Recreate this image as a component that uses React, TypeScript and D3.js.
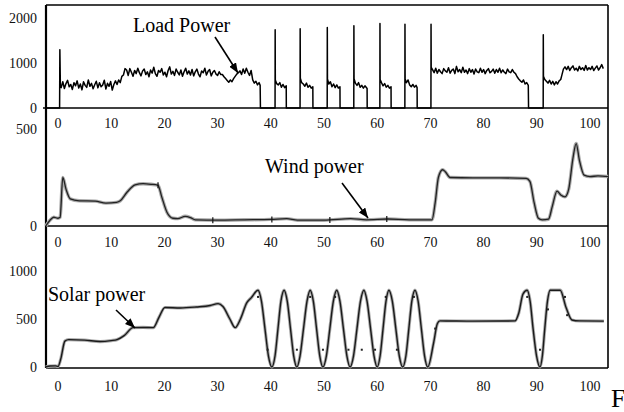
import { scaleLinear, line, curveMonotoneX, curveLinear } from "d3"

type Pt = [number, number]

// time axis labels (shared by all three panels)
const timeTicks = [0, 10, 20, 30, 40, 50, 60, 70, 80, 90, 100]
const loadTicks = [0, 1000, 2000]
const windTicks = [0, 500]
const solarTicks = [0, 500, 1000]

// fixed-rate samples of the noisy load plateaus
const run = (t0: number, step: number, values: number[]): Pt[] =>
  values.map((v, i) => [t0 + i * step, v] as Pt)

const loadStart: Pt[] = [[-2.3, 0], [0.3, 0], [0.35, 1290], [0.45, 480]]
const loadA = [450, 580, 430, 540, 610, 470, 520, 410, 560, 490, 600, 440, 530, 400, 580, 500, 455, 620, 480, 545, 425, 515, 590, 445, 560, 470, 510, 615, 420, 545, 480, 585, 395, 520, 600]
const loadRise: Pt[] = [[11.1, 520], [11.4, 620], [11.7, 560], [12.0, 700], [12.3, 730], [12.6, 870]]
const loadB = [840, 720, 870, 790, 700, 830, 760, 880, 780, 710, 820, 860, 740, 800, 690, 840, 770, 900, 760, 700, 830, 790, 870, 730, 790, 690, 830, 910, 750, 810, 720, 860, 790, 730, 840, 700, 800, 880, 750, 820, 730, 850, 710, 800, 860, 750, 690, 820, 780, 880, 730, 810, 850, 710, 790, 830, 750, 720, 800, 740]
const loadDip: Pt[] = [[30.9, 740], [31.2, 690], [31.5, 650], [31.8, 610], [32.1, 570], [32.4, 620], [32.7, 580], [33.0, 650], [33.3, 700], [33.6, 750], [33.9, 780]]
const loadC = [820, 740, 860, 770, 880, 790, 720, 830]
const loadDrop: Pt[] = [[36.6, 620], [36.9, 550], [37.2, 590], [37.5, 510], [37.8, 560], [38.0, 500], [38.05, 0]]
const loadPulses: Pt[] = [
  [40.8, 0], [40.82, 1730], [40.85, 620], [41.1, 540], [41.4, 510], [41.7, 560], [42.0, 460], [42.3, 520], [42.6, 450], [42.9, 490], [42.92, 0],
  [45.5, 0], [45.52, 1750], [45.55, 660], [45.8, 560], [46.1, 530], [46.4, 480], [46.7, 550], [47.0, 460], [47.3, 500], [47.6, 440], [47.9, 470], [47.92, 0],
  [50.6, 0], [50.62, 1780], [50.65, 640], [50.9, 530], [51.2, 580], [51.5, 470], [51.8, 530], [52.1, 450], [52.4, 510], [52.7, 440], [53.0, 470], [53.02, 0],
  [55.6, 0], [55.62, 1820], [55.65, 650], [55.9, 550], [56.2, 500], [56.5, 560], [56.8, 460], [57.1, 500], [57.4, 440], [57.7, 490], [58.1, 430], [58.12, 0],
  [60.5, 0], [60.52, 1870], [60.55, 630], [60.8, 560], [61.1, 490], [61.4, 540], [61.7, 460], [62.0, 500], [62.3, 440], [62.6, 470], [62.62, 0],
  [65.2, 0], [65.22, 1850], [65.25, 640], [65.5, 560], [65.8, 620], [66.1, 510], [66.4, 470], [66.7, 520], [67.0, 460], [67.3, 500], [67.5, 450], [67.52, 0],
  [70.1, 0], [70.12, 1850], [70.15, 900],
]
const loadD = [850, 780, 880, 770, 850, 800, 760, 870, 820, 790, 890, 770, 830, 860, 760, 920, 800, 850, 780, 900, 790, 840, 760, 870, 790, 850, 750, 860, 800, 780, 880, 790, 850, 760, 830, 870, 780, 810, 860, 770, 850, 790, 880, 780, 840, 790, 760, 860, 800, 780, 850, 790]
const loadTail: Pt[] = [
  [86.0, 760], [86.3, 690], [86.6, 640], [86.9, 600], [87.2, 570], [87.5, 620], [87.8, 530], [88.1, 560], [88.4, 500], [88.45, 0],
  [91.2, 0], [91.22, 1620], [91.25, 700], [91.5, 630], [91.8, 590], [92.1, 550], [92.4, 610], [92.7, 530], [93.0, 590], [93.3, 510], [93.6, 580], [93.9, 530], [94.2, 600], [94.5, 630], [94.7, 720], [95.0, 860], [95.3, 910],
]
const loadE = [850, 920, 830, 890, 930, 840, 880, 820, 920, 850, 890, 830, 940, 840, 890, 850, 920, 830, 880, 930, 840, 890, 960, 870]

const loadPower: Pt[] = [
  ...loadStart, ...run(0.6, 0.3, loadA), ...loadRise, ...run(12.9, 0.3, loadB),
  ...loadDip, ...run(34.2, 0.3, loadC), ...loadDrop, ...loadPulses,
  ...run(70.4, 0.3, loadD), ...loadTail, ...run(95.6, 0.3, loadE),
]

const windPower: Pt[] = [
  [-2.3, 0], [-1.5, 30], [-0.8, 45], [0, 40], [0.4, 45], [0.9, 250], [1.5, 190], [2.3, 140], [4, 130], [7, 128], [9, 118], [11, 122],
  [11.7, 130], [13, 175], [14.5, 212], [16, 218], [17.5, 215], [18.8, 210], [19.5, 150], [20.5, 70], [21.6, 40], [22.5, 38], [23.9, 50],
  [25, 42], [25.8, 32], [30, 30], [35, 32], [40, 34], [43, 38], [45, 30], [50, 30], [55, 38], [58, 32], [62, 36], [66, 32], [70.3, 32],
  [70.9, 120], [71.5, 250], [72.3, 290], [72.8, 280], [73.7, 250], [78, 248], [83, 248], [88, 245], [88.7, 230], [89.5, 120], [90.3, 40],
  [91, 32], [92.2, 35], [92.9, 100], [93.8, 180], [94.5, 160], [95.3, 150], [96, 190], [96.8, 350], [97.4, 425], [98, 340], [98.9, 262],
  [100, 255], [101.5, 258], [103.4, 255],
]
const windMarks: Pt[] = [[18.8, 210], [29.1, 30], [40.2, 34], [51.1, 31], [61.8, 36]]

const solarPower: Pt[] = [
  [-2.3, 0], [-1.5, 10], [-0.5, 12], [0, 5], [0.5, 80], [1.3, 270], [2, 285], [5, 280], [7.9, 265], [10, 275], [11.1, 285], [12.5, 330],
  [14.1, 410], [16, 412], [17.9, 410], [19, 520], [20.1, 620], [23, 615], [26, 625], [28.6, 640], [30.1, 660], [31, 630], [32.3, 500],
  [33.3, 410], [34.3, 500], [35.5, 670], [36.3, 720],
  [37.6, 800], [38.25, 683], [38.9, 400], [39.55, 117], [40.2, 0], [40.8, 117], [41.35, 400], [41.9, 683],
  [42.5, 800], [43.1, 683], [43.7, 400], [44.3, 117], [44.9, 0], [45.5, 117], [46.15, 400], [46.8, 683],
  [47.4, 800], [48.0, 683], [48.6, 400], [49.2, 117], [49.8, 0], [50.45, 117], [51.1, 400], [51.75, 683],
  [52.4, 800], [53.0, 683], [53.65, 400], [54.3, 117], [54.9, 0], [55.55, 117], [56.2, 400], [56.85, 683],
  [57.5, 800], [58.1, 683], [58.75, 400], [59.4, 117], [60, 0], [60.55, 117], [61.1, 400], [61.65, 683],
  [62.2, 800], [62.85, 683], [63.5, 400], [64.15, 117], [64.8, 0], [65.4, 117], [65.95, 400], [66.5, 683],
  [67.1, 800], [67.7, 683], [68.3, 400], [68.9, 117], [69.5, 0],
  [70.6, 250], [71.3, 450], [71.8, 480], [78, 478], [85.9, 480], [86.6, 560], [87.4, 760],
  [88.2, 800], [88.75, 683], [89.3, 400], [89.95, 117], [90.6, 0], [91.05, 117], [91.5, 400], [92.0, 683],
  [92.5, 800], [94.4, 800], [95.5, 620], [96.6, 490], [98, 480], [102.6, 478],
]
const solarMarks: Pt[] = [
  [37.6, 730], [39.4, 180], [44.9, 180], [47.4, 730], [49.8, 180], [52.1, 730], [54.6, 180], [57.1, 180], [59.6, 180],
  [61.6, 730], [63.7, 180], [66.9, 730], [70.9, 400], [88.2, 730], [90.6, 180], [92.1, 600], [95.3, 730], [95.7, 540],
]

const serif = "'Liberation Serif', 'Times New Roman', serif"

export default function App() {
  const left = 46
  const right = 608
  const top = 5
  const bottom = 368

  const x = scaleLinear().domain([0, 100]).range([58, 590])
  const yLoad = scaleLinear().domain([0, 2000]).range([108, 17.5])
  const yWind = scaleLinear().domain([0, 500]).range([226, 129])
  const ySolar = scaleLinear().domain([0, 1000]).range([367, 271])

  const loadLine = line<Pt>().x((d) => x(d[0])).y((d) => yLoad(d[1])).curve(curveLinear)
  const windLine = line<Pt>().x((d) => x(d[0])).y((d) => yWind(d[1])).curve(curveMonotoneX)
  const solarLine = line<Pt>().x((d) => x(d[0])).y((d) => ySolar(d[1])).curve(curveMonotoneX)

  const panels = [
    { y: yLoad, ticks: loadTicks, xLabelY: 128 },
    { y: yWind, ticks: windTicks, xLabelY: 247 },
    { y: ySolar, ticks: solarTicks, xLabelY: 391 },
  ]

  return (
    <svg
      width={624}
      height={412}
      style={{ position: "absolute", left: 0, top: 0, background: "#fff" }}
      fontFamily={serif}
    >
      <defs>
        <marker id="head" viewBox="0 0 10 8" refX={10} refY={4} markerWidth={10} markerHeight={8}
          markerUnits="userSpaceOnUse" orient="auto">
          <path d="M0,0 L10,4 L0,8 Z" fill="#000" />
        </marker>
      </defs>

      {/* frame and zero lines */}
      <g stroke="#000" fill="none">
        <line x1={left} x2={right} y1={top} y2={top} strokeWidth={1.6} />
        <line x1={right} x2={right} y1={top} y2={bottom} strokeWidth={1.6} />
        <line x1={left} x2={left} y1={top} y2={bottom} strokeWidth={2.2} />
        <line x1={left - 3} x2={right} y1={yLoad(0)} y2={yLoad(0)} strokeWidth={1.6} />
        <line x1={left} x2={right} y1={yWind(0)} y2={yWind(0)} strokeWidth={1.6} />
        <line x1={left} x2={right} y1={bottom} y2={bottom} strokeWidth={1.6} />
      </g>

      {/* tick labels */}
      {panels.map((p, i) => (
        <g key={i} fontSize={14} fill="#111">
          {p.ticks.map((t) => (
            <text key={t} x={37} y={p.y(t) + 5} textAnchor="end">{t}</text>
          ))}
          {timeTicks.map((t) => (
            <text key={"x" + t} x={x(t)} y={p.xLabelY} textAnchor="middle">{t}</text>
          ))}
        </g>
      ))}

      {/* series */}
      <path d={loadLine(loadPower) || undefined} fill="none" stroke="#000" strokeWidth={1.5} strokeLinejoin="round" />

      <path d={windLine(windPower) || undefined} fill="none" stroke="#aaa" strokeWidth={3.4} />
      <path d={windLine(windPower) || undefined} fill="none" stroke="#222" strokeWidth={1.3} />
      {windMarks.map((d, i) => (
        <line key={i} x1={x(d[0])} x2={x(d[0])} y1={yWind(d[1]) - 3} y2={yWind(d[1]) + 3} stroke="#111" strokeWidth={1.2} />
      ))}

      <path d={solarLine(solarPower) || undefined} fill="none" stroke="#aaa" strokeWidth={3.2} />
      <path d={solarLine(solarPower) || undefined} fill="none" stroke="#1a1a1a" strokeWidth={1.4} />
      {solarMarks.map((d, i) => (
        <rect key={i} x={x(d[0]) - 1} y={ySolar(d[1]) - 1} width={2} height={2} fill="#222" />
      ))}

      {/* annotations */}
      <g fontSize={20} fill="#000">
        <text x={133} y={32}>Load Power</text>
        <text x={265} y={173}>Wind power</text>
        <text x={48} y={301}>Solar power</text>
      </g>
      <g stroke="#000" strokeWidth={1.6} markerEnd="url(#head)">
        <line x1={215} y1={37} x2={238} y2={73} />
        <line x1={342} y1={183} x2={368} y2={218} />
        <line x1={116} y1={310} x2={135} y2={328} />
      </g>

      <text x={611} y={407} fontSize={26} fill="#000">F</text>
    </svg>
  )
}
